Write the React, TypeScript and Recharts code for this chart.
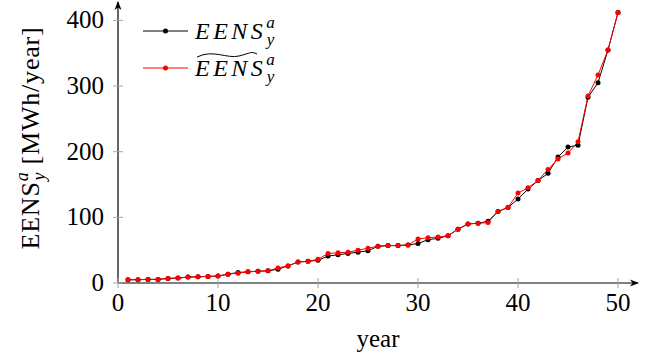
import { LineChart, Line, XAxis, YAxis, Legend } from "recharts";

const FONT = "'Liberation Serif', 'DejaVu Serif', serif";
const TICK_GRAY = "#a6a6a6";

const years = [
  1, 2, 3, 4, 5, 6, 7, 8, 9, 10, 11, 12, 13, 14, 15, 16, 17, 18, 19, 20, 21, 22, 23, 24, 25,
  26, 27, 28, 29, 30, 31, 32, 33, 34, 35, 36, 37, 38, 39, 40, 41, 42, 43, 44, 45, 46, 47, 48, 49, 50,
];
const eens = [
  5, 5, 5.5, 5.5, 7, 7.5, 9, 9.5, 10, 10.5, 13.5, 16, 17, 18, 18.5, 21, 26, 32, 33, 34.5, 41, 43, 45, 47, 49,
  56, 57, 57, 58, 60, 66, 68, 72, 82, 90, 91, 94, 109, 115, 128, 143, 156, 167, 192, 207, 210, 283, 305, 355, 412,
];
const eensTilde = [
  5, 5, 5.5, 5.5, 7, 7.5, 9, 9.5, 10, 10.5, 13.5, 15, 17, 18, 18.5, 23, 26, 32, 33, 36, 45, 46, 47, 50, 53,
  56, 57, 57, 58, 67, 69, 70, 72, 82, 90, 91, 92, 109, 115, 137, 145, 156, 173, 189, 198, 215, 285, 317, 355, 412,
];
const xTicks = [0, 10, 20, 30, 40, 50];
const yTicks = [0, 100, 200, 300, 400];

const data = years.map((y, i) => ({ year: y, eens: eens[i], eensTilde: eensTilde[i] }));

function XTick({ x, y, payload }: any) {
  return (
    <g>
      <line x1={x} x2={x} y1={y - 5} y2={y + 5} stroke={TICK_GRAY} />
      <text x={x} y={y + 28} textAnchor="middle" fontSize={25} fontFamily={FONT} fill="#000">
        {payload.value}
      </text>
    </g>
  );
}

function YTick({ x, y, payload }: any) {
  return (
    <g>
      <line x1={x - 5} x2={x + 5} y1={y} y2={y} stroke={TICK_GRAY} />
      <text x={x - 14} y={y + 8} textAnchor="end" fontSize={25} fontFamily={FONT} fill="#000">
        {payload.value}
      </text>
    </g>
  );
}

function YLabel() {
  return (
    <text
      x={39}
      y={138}
      transform="rotate(-90, 39, 138)"
      textAnchor="middle"
      fontSize={26}
      letterSpacing={0.8}
      fontFamily={FONT}
      fill="#000"
    >
      EENS
      <tspan fontStyle="italic" fontSize={18} dy={-11}>a</tspan>
      <tspan fontStyle="italic" fontSize={18} dx={-9} dy={17}>y</tspan>
      <tspan dy={-6}> [MWh/year]</tspan>
    </text>
  );
}

function XLabel() {
  return (
    <text x={378} y={347} textAnchor="middle" fontSize={25} fontFamily={FONT} fill="#000">
      year
    </text>
  );
}

function MathName({ x, y, tilde }: { x: number; y: number; tilde?: boolean }) {
  return (
    <g>
      <text x={x} y={y} fontSize={24} fontFamily={FONT} fontStyle="italic" letterSpacing={3.5} fill="#000">
        EENS
        <tspan fontSize={17} letterSpacing={0} dy={-11}>a</tspan>
        <tspan fontSize={17} letterSpacing={0} dx={-8} dy={17}>y</tspan>
      </text>
      {tilde && (
        <path
          d={`M${x + 2},${y - 19} C${x + 18},${y - 27} ${x + 32},${y - 17} ${x + 44},${y - 20} S${x + 56},${y - 25} ${x + 62},${y - 22}`}
          fill="none"
          stroke="#000"
          strokeWidth={1}
        />
      )}
    </g>
  );
}

function LegendBox() {
  return (
    <svg width={170} height={90}>
      <line x1={8} x2={53} y1={21} y2={21} stroke="#000" />
      <circle cx={30.5} cy={21} r={2.5} fill="#000" />
      <MathName x={60} y={29} />
      <line x1={8} x2={53} y1={58} y2={58} stroke="#ff0000" />
      <circle cx={30.5} cy={58} r={2.5} fill="#ff0000" />
      <MathName x={60} y={66} tilde />
    </svg>
  );
}

export default function App() {
  return (
    <div style={{ position: "absolute", left: 0, top: 0, width: 657, height: 360, background: "#fff" }}>
      <svg width={0} height={0} style={{ position: "absolute" }}>
        <defs>
          <marker
            id="axisArrow"
            viewBox="0 0 10 8"
            refX={8}
            refY={4}
            markerWidth={10}
            markerHeight={8}
            markerUnits="userSpaceOnUse"
            orient="auto-start-reverse"
          >
            <path d="M0,0.5 L9,4 L0,7.5 L2.5,4 Z" fill="#000" />
          </marker>
        </defs>
      </svg>
      <LineChart width={657} height={360} data={data} margin={{ top: 2, right: 19, bottom: 0, left: 0 }}>
        <XAxis
          dataKey="year"
          type="number"
          domain={[0, 52]}
          ticks={xTicks}
          height={77}
          tickSize={0}
          tickMargin={0}
          tick={<XTick />}
          axisLine={{ stroke: "#000", strokeWidth: 1.2, markerEnd: "url(#axisArrow)" }}
          label={<XLabel />}
        />
        <YAxis
          type="number"
          domain={[0, 428]}
          ticks={yTicks}
          width={118}
          tickSize={0}
          tickMargin={0}
          tick={<YTick />}
          axisLine={{ stroke: "#000", strokeWidth: 1.2, markerStart: "url(#axisArrow)" }}
          label={<YLabel />}
        />
        <Legend
          layout="vertical"
          align="center"
          verticalAlign="middle"
          content={<LegendBox />}
          wrapperStyle={{ top: 10, left: 135, width: 170, height: 90 }}
        />
        <Line
          dataKey="eens"
          stroke="#000"
          strokeWidth={1}
          dot={{ r: 2.5, fill: "#000", stroke: "none" }}
          isAnimationActive={false}
        />
        <Line
          dataKey="eensTilde"
          stroke="#ff0000"
          strokeWidth={1}
          dot={{ r: 2.5, fill: "#ff0000", stroke: "none" }}
          isAnimationActive={false}
        />
      </LineChart>
    </div>
  );
}
